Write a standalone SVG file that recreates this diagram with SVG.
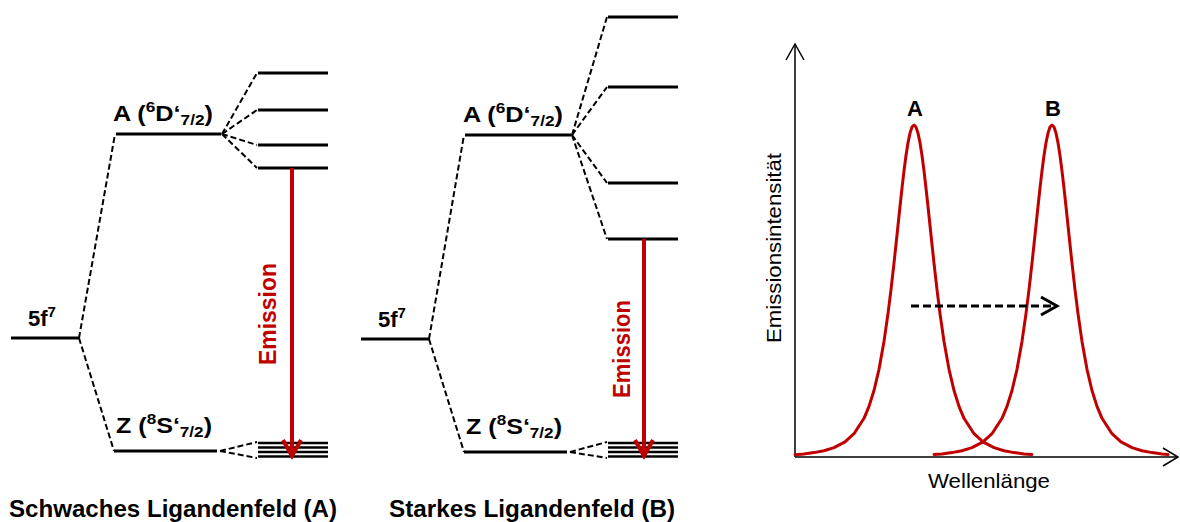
<svg xmlns="http://www.w3.org/2000/svg" width="1180" height="522" viewBox="0 0 1180 522">
<style>
.lvl{stroke:#000;stroke-width:3;fill:none}
.gl{stroke:#000;stroke-width:2.6;fill:none}
.dash{stroke:#000;stroke-width:2;stroke-dasharray:6 3;fill:none}
.emis{stroke:#C00000;stroke-width:4;fill:none}
.head{stroke:#C00000;stroke-width:4;fill:none;stroke-linejoin:miter}
.curve{stroke:#C00000;stroke-width:3;fill:none;stroke-linejoin:round;stroke-linecap:round}
.axis{stroke:#000;stroke-width:1.5;fill:none}
.lbl{font-family:"Liberation Sans",Arial,sans-serif;font-weight:bold;font-size:22px;fill:#000}
.sm{font-size:15px}
.big{font-family:"Liberation Sans",Arial,sans-serif;font-weight:bold;font-size:23px;fill:#000}
.red{font-family:"Liberation Sans",Arial,sans-serif;font-weight:bold;font-size:23px;fill:#C00000}
.reg{font-family:"Liberation Sans",Arial,sans-serif;font-size:21px;fill:#000}
</style>

<g id="diagramA">
  <g id="A-5f7">
    <line class="lvl" x1="11" y1="338" x2="79" y2="338"/>
    <text class="lbl" x="28" y="326" textLength="28" lengthAdjust="spacingAndGlyphs">5f<tspan class="sm" dy="-9">7</tspan></text>
  </g>
  <g id="A-levelA">
    <line class="lvl" x1="116" y1="134" x2="221" y2="134"/>
    <text class="lbl" x="113" y="121" textLength="100" lengthAdjust="spacingAndGlyphs">A (<tspan class="sm" dy="-9">6</tspan><tspan dy="9">D‘</tspan><tspan class="sm" dy="4">7/2</tspan><tspan dy="-4">)</tspan></text>
  </g>
  <g id="A-split">
    <line class="lvl" x1="258" y1="73" x2="328" y2="73"/>
    <line class="lvl" x1="258" y1="110" x2="328" y2="110"/>
    <line class="lvl" x1="258" y1="145" x2="328" y2="145"/>
    <line class="lvl" x1="258" y1="168" x2="328" y2="168"/>
  </g>
  <g id="A-levelZ">
    <line class="lvl" x1="114" y1="451" x2="217" y2="451"/>
    <text class="lbl" x="116" y="433" textLength="96" lengthAdjust="spacingAndGlyphs">Z (<tspan class="sm" dy="-9">8</tspan><tspan dy="9">S‘</tspan><tspan class="sm" dy="4">7/2</tspan><tspan dy="-4">)</tspan></text>
  </g>
  <g id="A-ground">
    <line class="gl" x1="258" y1="443" x2="328" y2="443"/>
    <line class="gl" x1="258" y1="447.5" x2="328" y2="447.5"/>
    <line class="gl" x1="258" y1="452" x2="328" y2="452"/>
    <line class="gl" x1="258" y1="456.5" x2="328" y2="456.5"/>
  </g>
  <g id="A-emission">
    <line class="emis" x1="292" y1="168" x2="292" y2="455"/>
    <polyline class="head" points="283,440 292,456 301,440"/>
    <text class="red" transform="translate(276,365) rotate(-90)" textLength="102" lengthAdjust="spacingAndGlyphs">Emission</text>
  </g>
  <text id="A-title" class="big" x="9" y="517" textLength="328" lengthAdjust="spacingAndGlyphs">Schwaches Ligandenfeld (A)</text>
</g>

<g id="diagramB">
  <g id="B-5f7">
    <line class="lvl" x1="361" y1="339" x2="429" y2="339"/>
    <text class="lbl" x="378" y="327" textLength="28" lengthAdjust="spacingAndGlyphs">5f<tspan class="sm" dy="-9">7</tspan></text>
  </g>
  <g id="B-levelA">
    <line class="lvl" x1="465" y1="135" x2="571" y2="135"/>
    <text class="lbl" x="463" y="122" textLength="100" lengthAdjust="spacingAndGlyphs">A (<tspan class="sm" dy="-9">6</tspan><tspan dy="9">D‘</tspan><tspan class="sm" dy="4">7/2</tspan><tspan dy="-4">)</tspan></text>
  </g>
  <g id="B-split">
    <line class="lvl" x1="608" y1="17" x2="678" y2="17"/>
    <line class="lvl" x1="608" y1="87" x2="678" y2="87"/>
    <line class="lvl" x1="608" y1="183" x2="678" y2="183"/>
    <line class="lvl" x1="608" y1="239" x2="678" y2="239"/>
  </g>
  <g id="B-levelZ">
    <line class="lvl" x1="464" y1="452" x2="567" y2="452"/>
    <text class="lbl" x="466" y="434" textLength="96" lengthAdjust="spacingAndGlyphs">Z (<tspan class="sm" dy="-9">8</tspan><tspan dy="9">S‘</tspan><tspan class="sm" dy="4">7/2</tspan><tspan dy="-4">)</tspan></text>
  </g>
  <g id="B-ground">
    <line class="gl" x1="608" y1="443" x2="678" y2="443"/>
    <line class="gl" x1="608" y1="447.5" x2="678" y2="447.5"/>
    <line class="gl" x1="608" y1="452" x2="678" y2="452"/>
    <line class="gl" x1="608" y1="456.5" x2="678" y2="456.5"/>
  </g>
  <g id="B-emission">
    <line class="emis" x1="644" y1="239" x2="644" y2="455"/>
    <polyline class="head" points="635,440 644,456 653,440"/>
    <text class="red" transform="translate(630,398) rotate(-90)" textLength="98" lengthAdjust="spacingAndGlyphs">Emission</text>
  </g>
  <text id="B-title" class="big" x="389" y="517" textLength="286" lengthAdjust="spacingAndGlyphs">Starkes Ligandenfeld (B)</text>
</g>

<g id="connectors">
  <line class="dash" x1="79" y1="338" x2="115" y2="134"/>
  <line class="dash" x1="79" y1="338" x2="114" y2="451"/>
  <line class="dash" x1="222" y1="134" x2="257" y2="73"/>
  <line class="dash" x1="222" y1="134" x2="257" y2="110"/>
  <line class="dash" x1="222" y1="134" x2="257" y2="145"/>
  <line class="dash" x1="222" y1="134" x2="257" y2="168"/>
  <line class="dash" x1="220" y1="451" x2="257" y2="442"/>
  <line class="dash" x1="220" y1="451" x2="257" y2="458"/>

  <line class="dash" x1="429" y1="339" x2="464" y2="135"/>
  <line class="dash" x1="429" y1="339" x2="464" y2="452"/>
  <line class="dash" x1="572" y1="135" x2="607" y2="17"/>
  <line class="dash" x1="572" y1="135" x2="607" y2="87"/>
  <line class="dash" x1="572" y1="135" x2="607" y2="183"/>
  <line class="dash" x1="572" y1="135" x2="607" y2="239"/>
  <line class="dash" x1="570" y1="452" x2="607" y2="442"/>
  <line class="dash" x1="570" y1="452" x2="607" y2="458"/>
</g>

<g id="graph">
  <g id="axes">
    <line class="axis" x1="795" y1="44" x2="795" y2="457"/>
    <polyline class="axis" points="786,60 795,44 804,60"/>
    <line class="axis" x1="795" y1="457" x2="1177" y2="457"/>
    <polyline class="axis" points="1163,448 1178,457 1163,466"/>
    <text class="reg" transform="translate(781,343) rotate(-90)" textLength="190" lengthAdjust="spacingAndGlyphs">Emissionsintensität</text>
    <text class="reg" x="928" y="488" textLength="122" lengthAdjust="spacingAndGlyphs">Wellenlänge</text>
  </g>
  <g id="peakA">
    <polyline class="curve" points="795,454.7 804,453.9 814,452.6 824,450.7 834,447.6 845,441.8 854,433.7 864,418.3 869,406.4 874,390.5 879,369.3 884,341.4 888,313.6 891,289.6 894,263.1 896,244.5 898,225.5 900,206.5 902,188.1 904,170.9 906,155.5 908,142.7 910,133.1 912,127 914,125 916,127 918,133.1 920,142.7 922,155.5 924,170.9 926,188.1 928,206.5 930,225.5 932,244.5 934,263.1 937,289.6 940,313.6 944,341.4 949,369.3 954,390.5 959,406.4 964,418.3 974,433.7 983,441.8 994,447.6 1004,450.7 1014,452.6 1024,453.9 1032,454.5"/>
    <text class="lbl" x="915" y="116" text-anchor="middle">A</text>
  </g>
  <g id="peakB">
    <polyline class="curve" points="934,454.5 942,453.9 952,452.6 962,450.7 972,447.6 983,441.8 992,433.7 1002,418.3 1007,406.4 1012,390.5 1017,369.3 1022,341.4 1026,313.6 1029,289.6 1032,263.1 1034,244.5 1036,225.5 1038,206.5 1040,188.1 1042,170.9 1044,155.5 1046,142.7 1048,133.1 1050,127 1052,125 1054,127 1056,133.1 1058,142.7 1060,155.5 1062,170.9 1064,188.1 1066,206.5 1068,225.5 1070,244.5 1072,263.1 1075,289.6 1078,313.6 1082,341.4 1087,369.3 1092,390.5 1097,406.4 1102,418.3 1112,433.7 1121,441.8 1132,447.6 1142,450.7 1152,452.6 1162,453.9 1168,454.5"/>
    <text class="lbl" x="1053" y="116" text-anchor="middle">B</text>
  </g>
  <g id="shift">
    <line stroke="#000" stroke-width="3" stroke-dasharray="8 4" x1="911" y1="306" x2="1055" y2="306"/>
    <polyline stroke="#000" stroke-width="3" fill="none" points="1041,297 1057,306 1041,315"/>
  </g>
</g>
</svg>
